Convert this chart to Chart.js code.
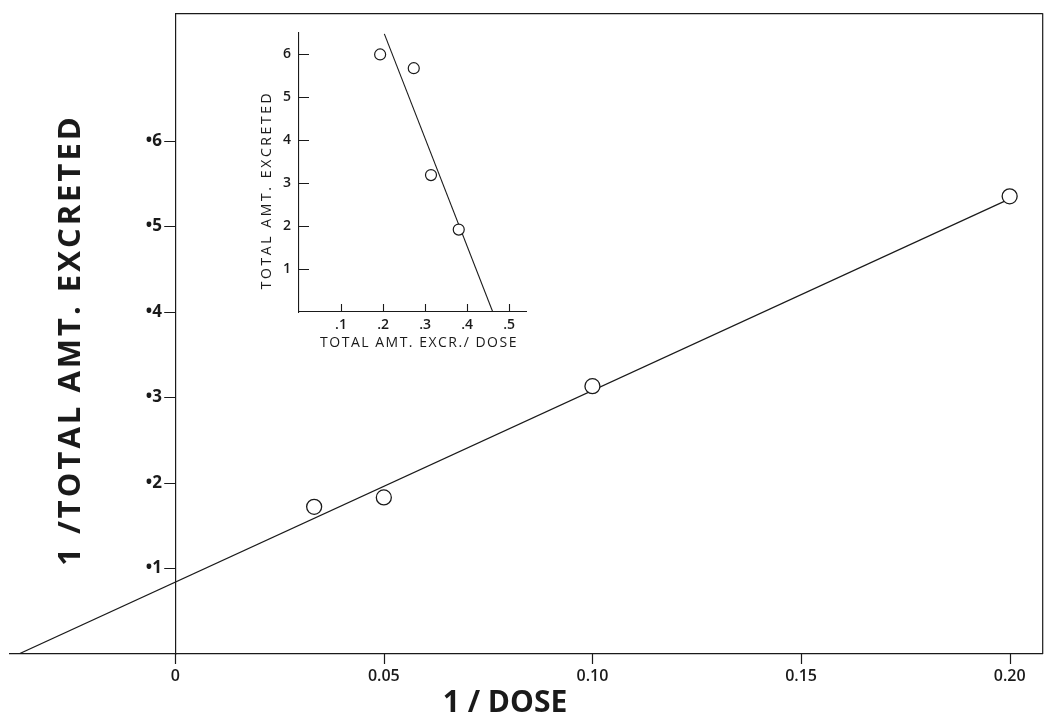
<!DOCTYPE html>
<html>
<head>
<meta charset="utf-8">
<script src="https://cdn.jsdelivr.net/npm/chart.js@4"></script>
<style>
  html, body { margin: 0; padding: 0; background: #fff; }
  #wrap { position: relative; width: 1051px; height: 720px; }
  #main { position: absolute; left: 0; top: 0; }
  #inset { position: absolute; left: 230px; top: 20px; }
</style>
</head>
<body>
<div id="wrap">
  <canvas id="main" width="1051" height="720"></canvas>
  <canvas id="inset" width="310" height="340"></canvas>
</div>
<script>
// main plot: 1/dose vs 1/total amount excreted
var doseInv = [0.0333, 0.05, 0.10, 0.20];
var excretedInv = [0.172, 0.183, 0.313, 0.535];
var fitX = [-0.0375, 0.20];
var fitY = [0, 0.532];
var xTicks = [0, 0.05, 0.10, 0.15, 0.20];
var xTickLabels = ['0', '0.05', '0.10', '0.15', '0.20'];
var yTicks = [0.1, 0.2, 0.3, 0.4, 0.5, 0.6];
var yTickLabels = ['•1', '•2', '•3', '•4', '•5', '•6'];

// inset: total excreted / dose vs total excreted
var ratio = [0.193, 0.273, 0.314, 0.380];
var excreted = [6.0, 5.68, 3.19, 1.92];
var insetFitX = [0.203, 0.461];
var insetFitY = [6.48, 0];
var insetXTicks = [0.1, 0.2, 0.3, 0.4, 0.5];
var insetXTickLabels = ['.1', '.2', '.3', '.4', '.5'];
var insetYTicks = [1, 2, 3, 4, 5, 6];
var insetYTickLabels = ['1', '2', '3', '4', '5', '6'];

var ink = '#1a1a1a';

function pts(xs, ys) {
  return xs.map(function(x, i) { return {x: x, y: ys[i]}; });
}

function drawText(ctx, text, x, y, font, rot, spacing) {
  ctx.save();
  ctx.translate(x, y);
  ctx.rotate(rot);
  ctx.font = font;
  ctx.letterSpacing = spacing || '0px';
  ctx.textAlign = 'center';
  ctx.textBaseline = 'middle';
  ctx.fillStyle = ink;
  ctx.fillText(text, 0, 0);
  ctx.restore();
}

function seg(ctx, x1, y1, x2, y2) {
  ctx.moveTo(x1, y1);
  ctx.lineTo(x2, y2);
}

// short tick marks; dx/dy give direction and length from the axis line
function tickMarks(ctx, scale, values, fixed, dx, dy) {
  values.forEach(function(v) {
    var p = Math.round(scale.getPixelForValue(v)) + 0.5;
    if (scale.isHorizontal()) seg(ctx, p, fixed, p + dx, fixed + dy);
    else seg(ctx, fixed, p, fixed + dx, p + dy);
  });
}

var mainDecor = {
  id: 'mainDecor',
  afterDraw: function(chart) {
    var ctx = chart.ctx, a = chart.chartArea;
    var x0 = chart.scales.x.getPixelForValue(0);
    ctx.save();
    ctx.strokeStyle = ink;
    ctx.lineWidth = 1.2;
    ctx.beginPath();
    seg(ctx, x0, a.top + 0.5, a.right + 0.5, a.top + 0.5);
    seg(ctx, a.right + 0.5, a.top, a.right + 0.5, a.bottom);
    tickMarks(ctx, chart.scales.x, xTicks, a.bottom, 0, 10);
    tickMarks(ctx, chart.scales.y, yTicks, x0, -11, 0);
    ctx.stroke();
    ctx.restore();
    drawText(ctx, '1 /TOTAL AMT. EXCRETED', 71, 340, 'bold 31px "Open Sans"', -Math.PI / 2, '3px');
    drawText(ctx, '1 / DOSE', 505, 703, 'bold 30px "Open Sans"', 0, '0px');
  }
};

new Chart(document.getElementById('main'), {
  type: 'scatter',
  data: {
    datasets: [{
      data: pts(doseInv, excretedInv),
      pointRadius: 7.5,
      pointBorderWidth: 1.3,
      borderColor: ink,
      backgroundColor: '#fff',
      order: 0
    }, {
      data: pts(fitX, fitY),
      showLine: true,
      pointRadius: 0,
      borderWidth: 1.2,
      borderColor: ink,
      order: 1
    }]
  },
  options: {
    responsive: false,
    animation: false,
    layout: {padding: {left: 10, right: 3, top: 13, bottom: 0}},
    plugins: {legend: {display: false}, tooltip: {enabled: false}},
    scales: {
      x: {
        type: 'linear',
        position: 'bottom',
        min: -0.0396,
        max: 0.2078,
        afterBuildTicks: function(s) { s.ticks = xTicks.map(function(v) { return {value: v}; }); },
        afterFit: function(s) { s.height = 66; },
        grid: {drawOnChartArea: false, drawTicks: false},
        border: {color: ink, width: 1.2},
        ticks: {
          autoSkip: false, maxRotation: 0, padding: 13, color: ink,
          font: {family: 'Open Sans', size: 16, weight: '600'},
          callback: function(v, i) { return xTickLabels[i]; }
        }
      },
      y: {
        type: 'linear',
        position: {x: 0},
        min: 0,
        max: 0.749,
        afterBuildTicks: function(s) { s.ticks = yTicks.map(function(v) { return {value: v}; }); },
        grid: {drawOnChartArea: false, drawTicks: false},
        border: {color: ink, width: 1.2},
        ticks: {
          autoSkip: false, padding: 3, color: ink,
          font: {family: 'Open Sans', size: 17, weight: 'bold'},
          // the label sits on the axis itself, so leave room for the tick mark
          callback: function(v, i) { return yTickLabels[i] + '   '; }
        }
      }
    }
  },
  plugins: [mainDecor]
});

var insetDecor = {
  id: 'insetDecor',
  afterDraw: function(chart) {
    var ctx = chart.ctx, a = chart.chartArea;
    ctx.save();
    ctx.strokeStyle = ink;
    ctx.lineWidth = 1.1;
    ctx.beginPath();
    tickMarks(ctx, chart.scales.x, insetXTicks, a.bottom, 0, -8);
    tickMarks(ctx, chart.scales.y, insetYTicks, a.left, 10, 0);
    ctx.stroke();
    ctx.restore();
    drawText(ctx, 'TOTAL AMT. EXCRETED', 37, 170, '500 14px "Open Sans"', -Math.PI / 2, '2.6px');
    drawText(ctx, 'TOTAL AMT. EXCR./ DOSE', 189, 323, '500 14px "Open Sans"', 0, '1.5px');
  }
};

new Chart(document.getElementById('inset'), {
  type: 'scatter',
  data: {
    datasets: [{
      data: pts(ratio, excreted),
      pointRadius: 5.5,
      pointBorderWidth: 1.2,
      borderColor: ink,
      backgroundColor: '#fff',
      order: 0
    }, {
      data: pts(insetFitX, insetFitY),
      showLine: true,
      pointRadius: 0,
      borderWidth: 1.1,
      borderColor: ink,
      order: 1
    }]
  },
  options: {
    responsive: false,
    animation: false,
    layout: {padding: {left: 0, right: 14, top: 13, bottom: 0}},
    plugins: {legend: {display: false}, tooltip: {enabled: false}},
    scales: {
      x: {
        type: 'linear',
        position: 'bottom',
        min: 0,
        max: 0.54,
        afterBuildTicks: function(s) { s.ticks = insetXTicks.map(function(v) { return {value: v}; }); },
        afterFit: function(s) { s.height = 48; s.paddingLeft = 0; s.paddingRight = 0; },
        grid: {drawOnChartArea: false, drawTicks: false},
        border: {color: ink, width: 1.1},
        ticks: {
          autoSkip: false, maxRotation: 0, padding: 5, color: ink,
          font: {family: 'Open Sans', size: 14, weight: '600'},
          callback: function(v, i) { return insetXTickLabels[i]; }
        }
      },
      y: {
        type: 'linear',
        position: 'left',
        min: 0,
        max: 6.5,
        afterBuildTicks: function(s) { s.ticks = insetYTicks.map(function(v) { return {value: v}; }); },
        afterFit: function(s) { s.width = 69; s.paddingTop = 0; s.paddingBottom = 0; },
        grid: {drawOnChartArea: false, drawTicks: false},
        border: {color: ink, width: 1.1},
        ticks: {
          autoSkip: false, padding: 8, color: ink,
          font: {family: 'Open Sans', size: 14, weight: '600'},
          callback: function(v, i) { return insetYTickLabels[i]; }
        }
      }
    }
  },
  plugins: [insetDecor]
});
</script>
</body>
</html>
